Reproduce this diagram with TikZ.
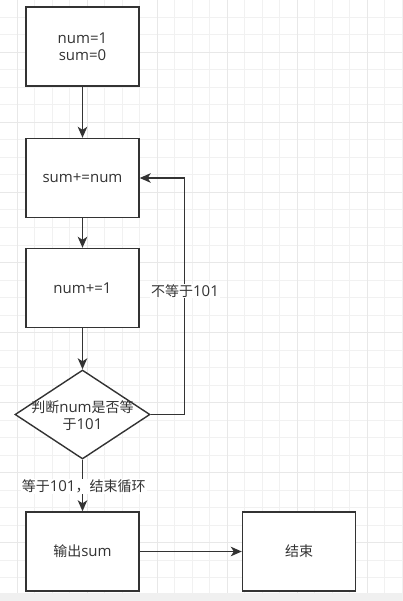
\documentclass[tikz,border=0pt]{standalone}
\usepackage{fontspec}
\setmainfont{Open Sans}
\newfontfamily\cjkfont{Noto Sans CJK SC}
\newcommand\zh[1]{{\cjkfont\fontsize{14}{17.5}\selectfont #1}}
\usetikzlibrary{shapes.geometric,arrows.meta}
\definecolor{ink}{HTML}{333333}
\definecolor{gridthin}{HTML}{F1F1F1}
\definecolor{gridthick}{HTML}{E8E8E8}
\definecolor{strip}{HTML}{F0F0F0}
\begin{document}
\begin{tikzpicture}[x=1pt,y=-1pt,
  txt/.style={text=ink, font=\fontsize{15}{17.5}\selectfont, align=center},
  box/.style={txt, draw=ink, line width=1.4pt, fill=white, minimum width=113pt, minimum height=79pt, inner sep=0pt},
  decision/.style={draw=ink, line width=1.4pt, fill=white, diamond, minimum width=135pt, minimum height=89pt, inner sep=0pt},
  lbl/.style={txt, fill=white, inner sep=1pt},
  flow/.style={draw=ink, line width=1.4pt, -{Stealth[length=11pt,width=9.5pt,inset=3pt]}}]
\useasboundingbox (0,0) rectangle (402,601);
\fill[white] (0,0) rectangle (402,601);
% grid
\foreach \i in {0,...,23} {\draw[gridthin, line width=1pt] ({-0.2+17.5*\i},0) -- ({-0.2+17.5*\i},601);}
\foreach \j in {1,...,34} {\draw[gridthin, line width=1pt] (0,{17.5*\j}) -- (402,{17.5*\j});}
\foreach \i in {1,5,...,21} {\draw[gridthick, line width=1.4pt] ({-0.2+17.5*\i},0) -- ({-0.2+17.5*\i},601);}
\foreach \j in {3,7,...,31} {\draw[gridthick, line width=1.4pt] (0,{17.5*\j}) -- (402,{17.5*\j});}
\fill[strip] (0,593) rectangle (402,601);
% nodes
\node[box] (init) at (82.5,46.5) {num=1\\sum=0};
\node[box] (add) at (82.5,178) {sum+=num};
\node[box] (inc) at (82.5,288) {num+=1};
\node[decision] (dec) at (82.5,414.5) {};
\node[txt] (dectext) at (82.5,415.5) {\zh{判断}num\zh{是否等}\\\zh{于}101};
\node[box] (out) at (82.5,551.5) {\zh{输出}sum};
\node[box] (fin) at (299,551.5) {\zh{结束}};
% connectors
\draw[flow] (init) -- (add);
\draw[flow] (add) -- (inc);
\draw[flow] (inc) -- (dec);
\draw[flow] (dec.south) -- (out.north);
\draw[flow] (dec.east) -- ++(34,0) |- (add.east);
\draw[flow] (out) -- (fin);
% labels
\node[lbl] (nolbl) at (185,291) {\zh{不等于}101};
\node[lbl] (yeslbl) at (83.7,486.5) {\zh{等于}101\zh{，结束循环}};
\end{tikzpicture}
\end{document}
